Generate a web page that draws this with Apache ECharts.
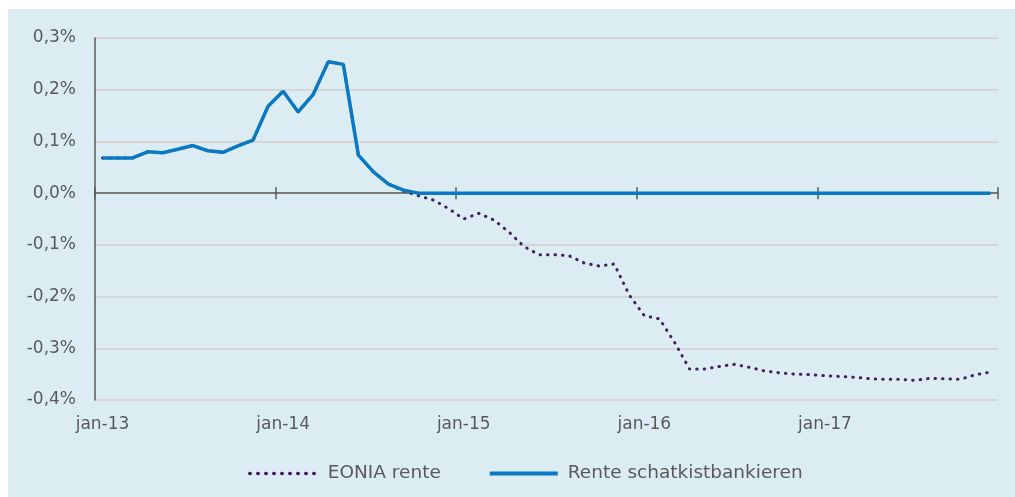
<!DOCTYPE html>
<html>
<head>
<meta charset="utf-8">
<script src="https://cdn.jsdelivr.net/npm/echarts@6/dist/echarts.min.js"></script>
<style>
  html, body { margin: 0; padding: 0; background: #fff; }
  #chart { width: 1015px; height: 497px; }
</style>
</head>
<body>
<div id="chart"></div>
<script>
// monthly, jan-13 .. dec-17
const monthNames = ['jan', 'feb', 'mrt', 'apr', 'mei', 'jun', 'jul', 'aug', 'sep', 'okt', 'nov', 'dec'];
const years = ['13', '14', '15', '16', '17'];
const months = [];
years.forEach(y => monthNames.forEach(m => months.push(m + '-' + y)));

// Rente schatkistbankieren (%)
const renteSchatkist = [
  0.068, 0.068, 0.068, 0.080, 0.078, 0.085, 0.092, 0.082, 0.079, 0.0915, 0.1025, 0.168,
  0.197, 0.157, 0.191, 0.254, 0.249, 0.0735, 0.041, 0.0174, 0.0058, 0, 0, 0,
  0, 0, 0, 0, 0, 0, 0, 0, 0, 0, 0, 0,
  0, 0, 0, 0, 0, 0, 0, 0, 0, 0, 0, 0,
  0, 0, 0, 0, 0, 0, 0, 0, 0, 0, 0, 0
];

// EONIA rente (%)
const eonia = [
  0.068, 0.068, 0.068, 0.080, 0.078, 0.085, 0.092, 0.082, 0.079, 0.0915, 0.1025, 0.168,
  0.197, 0.157, 0.191, 0.254, 0.249, 0.0735, 0.041, 0.0174, 0.004, -0.005, -0.0135, -0.030,
  -0.050, -0.039, -0.052, -0.075, -0.103, -0.119, -0.119, -0.121, -0.135, -0.141, -0.137, -0.197,
  -0.237, -0.243, -0.288, -0.340, -0.340, -0.335, -0.331, -0.337, -0.344, -0.3475, -0.350, -0.351,
  -0.353, -0.3545, -0.356, -0.359, -0.360, -0.360, -0.362, -0.358, -0.359, -0.360, -0.351, -0.346
];

const textColor = '#595959';
const axisColor = '#595959';
const font = 'DejaVu Sans';
const eoniaColor = '#44205C';
const renteColor = '#0A78C2';

const chart = echarts.init(document.getElementById('chart'));

const option = {
  animation: false,
  textStyle: { fontFamily: font },
  graphic: [{
    type: 'rect',
    left: 8,
    top: 9,
    shape: { width: 1007, height: 488 },
    style: { fill: '#DBEDF3' },
    z: -10,
    silent: true
  }],
  grid: { left: 95, right: 17, top: 38, bottom: 97 },
  legend: {
    left: 243,
    top: 459,
    itemWidth: 68,
    itemHeight: 14,
    itemGap: 47,
    itemStyle: { opacity: 0 },
    textStyle: { color: textColor, fontSize: 18.5, fontFamily: font, padding: [0, 0, 0, 5] },
    data: [
      { name: 'EONIA rente', lineStyle: { width: 3.5, color: eoniaColor, type: [0.5, 7.5], cap: 'round' } },
      { name: 'Rente schatkistbankieren', lineStyle: { width: 4, color: renteColor } }
    ]
  },
  xAxis: [
    {
      // labels at the bottom
      type: 'category',
      data: months,
      boundaryGap: true,
      position: 'bottom',
      axisLine: { show: false, onZero: false },
      axisTick: { show: false },
      axisLabel: {
        interval: 11,
        margin: 16,
        color: textColor,
        fontSize: 17,
        fontFamily: font
      },
      splitLine: { show: false }
    },
    {
      // zero line with ticks below
      type: 'category',
      data: months,
      boundaryGap: true,
      position: 'bottom',
      axisLine: { show: true, onZero: true, onZeroAxisIndex: 0, lineStyle: { color: axisColor, width: 1.5 } },
      axisTick: { show: true, interval: 11, length: 6, lineStyle: { color: axisColor, width: 1.5 } },
      axisLabel: { show: false },
      splitLine: { show: false }
    },
    {
      // ticks above the zero line
      type: 'category',
      data: months,
      boundaryGap: true,
      position: 'bottom',
      axisLine: { show: true, onZero: true, onZeroAxisIndex: 1, lineStyle: { color: 'rgba(0,0,0,0)', width: 0 } },
      axisTick: { show: true, inside: true, interval: 11, length: 6, lineStyle: { color: axisColor, width: 1.5 } },
      axisLabel: { show: false },
      splitLine: { show: false }
    }
  ],
  yAxis: [
    {
      type: 'value',
      min: -0.4,
      max: 0.3,
      interval: 0.1,
      axisLine: { show: true, lineStyle: { color: axisColor, width: 1.5 } },
      axisTick: { show: false },
      axisLabel: {
        margin: 19,
        color: textColor,
        fontSize: 17,
        fontFamily: font,
        formatter: v => v.toFixed(1).replace('.', ',') + '%'
      },
      splitLine: { lineStyle: { color: '#D6D6D6', width: 2 } }
    },
    {
      // twin axis, only used to put the upper ticks on zero
      type: 'value',
      min: -0.4,
      max: 0.3,
      interval: 0.1,
      position: 'left',
      axisLine: { show: false },
      axisTick: { show: false },
      axisLabel: { show: false },
      splitLine: { show: false }
    }
  ],
  series: [
    {
      name: 'EONIA rente',
      type: 'line',
      data: eonia,
      symbol: 'none',
      lineStyle: { color: eoniaColor, width: 3, type: [0.5, 7], cap: 'round' },
      itemStyle: { color: eoniaColor },
      z: 2
    },
    {
      name: 'Rente schatkistbankieren',
      type: 'line',
      data: renteSchatkist,
      symbol: 'none',
      lineStyle: { color: renteColor, width: 3.5 },
      itemStyle: { color: renteColor },
      z: 3
    }
  ]
};

option && chart.setOption(option);
</script>
</body>
</html>
